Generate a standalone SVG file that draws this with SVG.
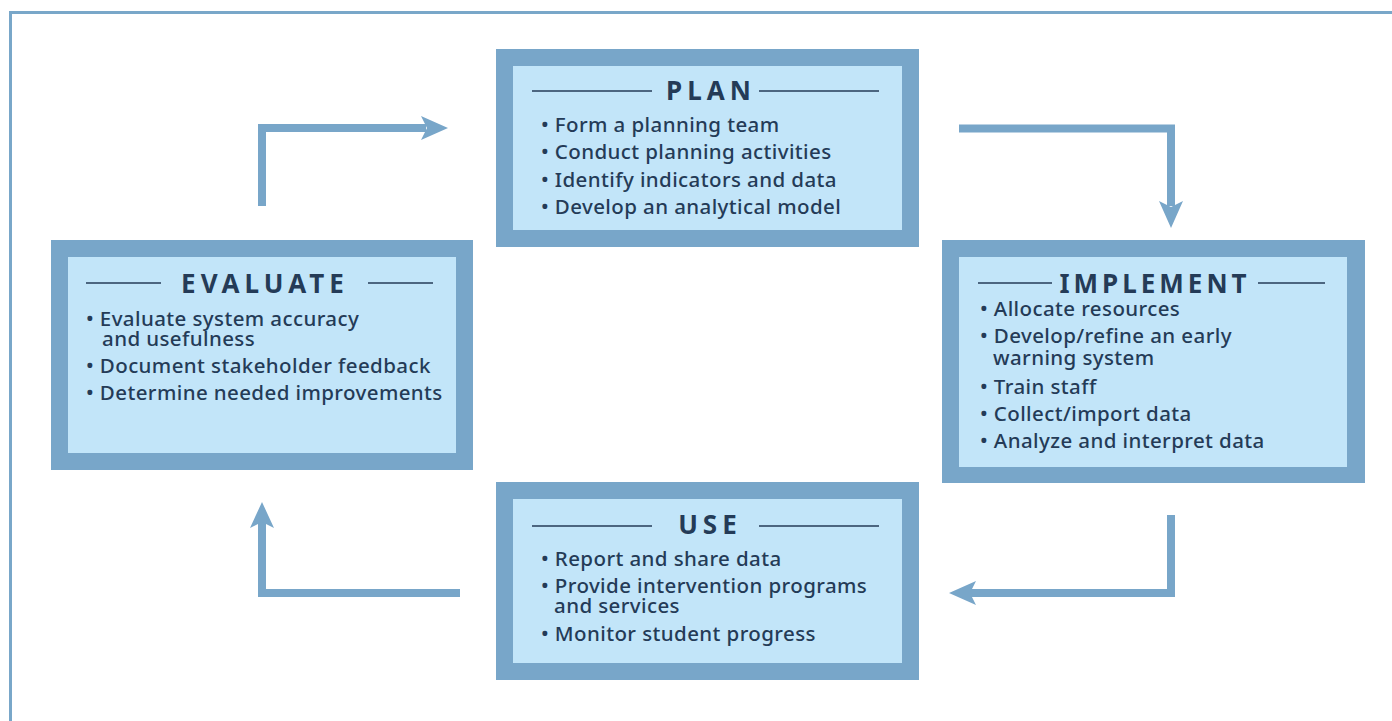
<svg xmlns="http://www.w3.org/2000/svg" width="1392" height="721" viewBox="0 0 1392 721">
<style>
.outer{fill:#78a6c9}
.inner{fill:#c2e5f9}
.title{font-family:"Noto Sans","Liberation Sans",sans-serif;font-weight:700;font-size:26px;fill:#243b57;letter-spacing:5px;text-anchor:middle}
.body{font-family:"Noto Sans","Liberation Sans",sans-serif;font-weight:500;font-size:20.5px;fill:#243b57;letter-spacing:0.4px}
.rule{stroke:#243b57;stroke-width:1.5}
.conn{fill:none;stroke:#78a6c9;stroke-width:8;stroke-linejoin:miter}
.head{fill:#78a6c9}
</style>
<rect x="0" y="0" width="1392" height="721" fill="#ffffff"/>
<rect x="10.5" y="12.5" width="1420" height="800" fill="none" stroke="#79a7c9" stroke-width="3"/>

<g id="connectors">
  <path class="conn" d="M262,206 V128 H426"/>
  <polygon class="head" points="448,128 421,116 427,128 421,140"/>
  <path class="conn" d="M959,128.5 H1171 V206"/>
  <polygon class="head" points="1171,228 1159,201 1171,207 1183,201"/>
  <path class="conn" d="M1171,515 V593 H970"/>
  <polygon class="head" points="949,593 976,581 970,593 976,605"/>
  <path class="conn" d="M460,593 H262 V522"/>
  <polygon class="head" points="262,502 250,528 262,522 274,528"/>
</g>

<g id="plan">
  <rect class="outer" x="496" y="49" width="423" height="198"/>
  <rect class="inner" x="513" y="66" width="389" height="164"/>
  <line class="rule" x1="532" y1="91" x2="652" y2="91"/>
  <line class="rule" x1="759" y1="91" x2="879" y2="91"/>
  <text class="title" x="711" y="100">PLAN</text>
  <text class="body" x="541" y="132">• Form a planning team</text>
  <text class="body" x="541" y="159">• Conduct planning activities</text>
  <text class="body" x="541" y="187">• Identify indicators and data</text>
  <text class="body" x="541" y="214">• Develop an analytical model</text>
</g>

<g id="implement">
  <rect class="outer" x="942" y="240" width="423" height="243"/>
  <rect class="inner" x="959" y="257" width="388" height="210"/>
  <line class="rule" x1="978" y1="283" x2="1052" y2="283"/>
  <line class="rule" x1="1258" y1="283" x2="1325" y2="283"/>
  <text class="title" x="1155" y="293" style="letter-spacing:4px">IMPLEMENT</text>
  <text class="body" x="980" y="316">• Allocate resources</text>
  <text class="body"><tspan x="980" y="343">• Develop/refine an early</tspan><tspan x="993" y="365">warning system</tspan></text>
  <text class="body" x="980" y="394">• Train staff</text>
  <text class="body" x="980" y="421">• Collect/import data</text>
  <text class="body" x="980" y="448">• Analyze and interpret data</text>
</g>

<g id="use">
  <rect class="outer" x="496" y="482" width="423" height="198"/>
  <rect class="inner" x="513" y="499" width="389" height="164"/>
  <line class="rule" x1="532" y1="526" x2="652" y2="526"/>
  <line class="rule" x1="759" y1="526" x2="879" y2="526"/>
  <text class="title" x="710" y="534">USE</text>
  <text class="body" x="541" y="566">• Report and share data</text>
  <text class="body"><tspan x="541" y="593">• Provide intervention programs</tspan><tspan x="554" y="613">and services</tspan></text>
  <text class="body" x="541" y="641">• Monitor student progress</text>
</g>

<g id="evaluate">
  <rect class="outer" x="51" y="240" width="422" height="230"/>
  <rect class="inner" x="68" y="257" width="388" height="196"/>
  <line class="rule" x1="86" y1="283" x2="161" y2="283"/>
  <line class="rule" x1="368" y1="283" x2="433" y2="283"/>
  <text class="title" x="265" y="293">EVALUATE</text>
  <text class="body"><tspan x="86" y="326">• Evaluate system accuracy</tspan><tspan x="102" y="346">and usefulness</tspan></text>
  <text class="body" x="86" y="373">• Document stakeholder feedback</text>
  <text class="body" x="86" y="400">• Determine needed improvements</text>
</g>
</svg>
